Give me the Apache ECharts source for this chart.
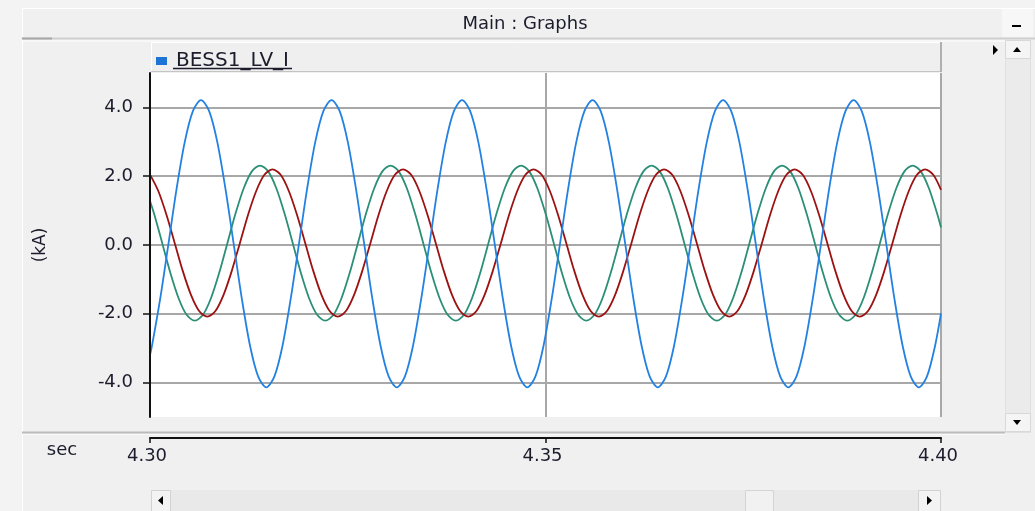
<!DOCTYPE html>
<html>
<head>
<meta charset="utf-8">
<title>Main : Graphs</title>
<script src="https://cdn.jsdelivr.net/npm/echarts@6/dist/echarts.min.js"></script>
<style>
  html, body { margin: 0; padding: 0; background: #f0f0f0; }
  #main { width: 1035px; height: 511px; }
</style>
</head>
<body>
<div id="main"></div>
<script>
// axis ticks
const yTicks = [-4, -2, 0, 2, 4]
const xMin = 4.30
const xMax = 4.40
const xStep = 0.05

// BESS1_LV_I : three phase currents (kA)
const blueName = 'BESS1_LV_I'
const blueTime = [
  4.30000,
  4.30026, 4.30129, 4.30233, 4.30336, 4.30439, 4.30542,
  4.30645, 4.30748, 4.30851, 4.30954, 4.31058, 4.31161, 4.31264, 4.31367,
  4.31470, 4.31573, 4.31676, 4.31779, 4.31883, 4.31986, 4.32089, 4.32192,
  4.32295, 4.32398, 4.32501, 4.32604, 4.32708, 4.32811, 4.32914, 4.33017,
  4.33120, 4.33223, 4.33326, 4.33429, 4.33533, 4.33636, 4.33739, 4.33842,
  4.33945, 4.34048, 4.34151, 4.34254, 4.34358, 4.34461, 4.34564, 4.34667,
  4.34770, 4.34873, 4.34976, 4.35079, 4.35183, 4.35286, 4.35389, 4.35492,
  4.35595, 4.35698, 4.35801, 4.35904, 4.36008, 4.36111, 4.36214, 4.36317,
  4.36420, 4.36523, 4.36626, 4.36729, 4.36833, 4.36936, 4.37039, 4.37142,
  4.37245, 4.37348, 4.37451, 4.37554, 4.37658, 4.37761, 4.37864, 4.37967,
  4.38070, 4.38173, 4.38276, 4.38379, 4.38483, 4.38586, 4.38689, 4.38792,
  4.38895, 4.38998, 4.39101, 4.39204, 4.39308, 4.39411, 4.39514, 4.39617,
  4.39720, 4.39823, 4.39926,
  4.40000
]
const blueValue = [
  -3.20,
  -2.92, -1.56, 0.03, 1.63, 2.99, 3.89,
  4.21, 3.89, 2.99, 1.63, 0.03, -1.56, -2.92, -3.82,
  -4.14, -3.82, -2.92, -1.56, 0.03, 1.63, 2.99, 3.89,
  4.21, 3.89, 2.99, 1.63, 0.03, -1.56, -2.92, -3.82,
  -4.14, -3.82, -2.92, -1.56, 0.03, 1.63, 2.99, 3.89,
  4.21, 3.89, 2.99, 1.63, 0.03, -1.56, -2.92, -3.82,
  -4.14, -3.82, -2.92, -1.56, 0.03, 1.63, 2.99, 3.89,
  4.21, 3.89, 2.99, 1.63, 0.03, -1.56, -2.92, -3.82,
  -4.14, -3.82, -2.92, -1.56, 0.03, 1.63, 2.99, 3.89,
  4.21, 3.89, 2.99, 1.63, 0.03, -1.56, -2.92, -3.82,
  -4.14, -3.82, -2.92, -1.56, 0.03, 1.63, 2.99, 3.89,
  4.21, 3.89, 2.99, 1.63, 0.03, -1.56, -2.92, -3.82,
  -4.14, -3.82, -2.92,
  -1.99
]

const greenTime = [
  4.30000,
  4.30050, 4.30154, 4.30257, 4.30360, 4.30463, 4.30566, 4.30669, 4.30772,
  4.30875, 4.30979, 4.31082, 4.31185, 4.31288,
  4.31391, 4.31494, 4.31597, 4.31700, 4.31804, 4.31907, 4.32010, 4.32113,
  4.32216, 4.32319, 4.32422, 4.32525, 4.32629, 4.32732, 4.32835, 4.32938,
  4.33041, 4.33144, 4.33247, 4.33350, 4.33454, 4.33557, 4.33660, 4.33763,
  4.33866, 4.33969, 4.34072, 4.34175, 4.34279, 4.34382, 4.34485, 4.34588,
  4.34691, 4.34794, 4.34897, 4.35000, 4.35104, 4.35207, 4.35310, 4.35413,
  4.35516, 4.35619, 4.35722, 4.35825, 4.35929, 4.36032, 4.36135, 4.36238,
  4.36341, 4.36444, 4.36547, 4.36650, 4.36754, 4.36857, 4.36960, 4.37063,
  4.37166, 4.37269, 4.37372, 4.37475, 4.37579, 4.37682, 4.37785, 4.37888,
  4.37991, 4.38094, 4.38197, 4.38300, 4.38404, 4.38507, 4.38610, 4.38713,
  4.38816, 4.38919, 4.39022, 4.39125, 4.39229, 4.39332, 4.39435, 4.39538,
  4.39641, 4.39744, 4.39847, 4.39950,
  4.40000
]
const greenValue = [
  1.28,
  0.92, 0.06, -0.81, -1.54, -2.03, -2.20, -2.03, -1.54,
  -0.81, 0.06, 0.92, 1.65, 2.14,
  2.31, 2.14, 1.65, 0.92, 0.06, -0.81, -1.54, -2.03,
  -2.20, -2.03, -1.54, -0.81, 0.06, 0.92, 1.65, 2.14,
  2.31, 2.14, 1.65, 0.92, 0.06, -0.81, -1.54, -2.03,
  -2.20, -2.03, -1.54, -0.81, 0.06, 0.92, 1.65, 2.14,
  2.31, 2.14, 1.65, 0.92, 0.06, -0.81, -1.54, -2.03,
  -2.20, -2.03, -1.54, -0.81, 0.06, 0.92, 1.65, 2.14,
  2.31, 2.14, 1.65, 0.92, 0.06, -0.81, -1.54, -2.03,
  -2.20, -2.03, -1.54, -0.81, 0.06, 0.92, 1.65, 2.14,
  2.31, 2.14, 1.65, 0.92, 0.06, -0.81, -1.54, -2.03,
  -2.20, -2.03, -1.54, -0.81, 0.06, 0.92, 1.65, 2.14,
  2.31, 2.14, 1.65, 0.92,
  0.51
]

const redTime = [
  4.30002, 4.30105, 4.30208, 4.30312, 4.30415, 4.30518, 4.30621, 4.30724,
  4.30827, 4.30930, 4.31033, 4.31137, 4.31240, 4.31343, 4.31446,
  4.31549, 4.31652, 4.31755, 4.31858, 4.31962, 4.32065, 4.32168, 4.32271,
  4.32374, 4.32477, 4.32580, 4.32683, 4.32787, 4.32890, 4.32993, 4.33096,
  4.33199, 4.33302, 4.33405, 4.33508, 4.33612, 4.33715, 4.33818, 4.33921,
  4.34024, 4.34127, 4.34230, 4.34333, 4.34437, 4.34540, 4.34643, 4.34746,
  4.34849, 4.34952, 4.35055, 4.35158, 4.35262, 4.35365, 4.35468, 4.35571,
  4.35674, 4.35777, 4.35880, 4.35983, 4.36087, 4.36190, 4.36293, 4.36396,
  4.36499, 4.36602, 4.36705, 4.36808, 4.36912, 4.37015, 4.37118, 4.37221,
  4.37324, 4.37427, 4.37530, 4.37633, 4.37737, 4.37840, 4.37943, 4.38046,
  4.38149, 4.38252, 4.38355, 4.38458, 4.38562, 4.38665, 4.38768, 4.38871,
  4.38974, 4.39077, 4.39180, 4.39283, 4.39387, 4.39490, 4.39593, 4.39696,
  4.39799, 4.39902,
  4.40000
]
const redValue = [
  2.04, 1.57, 0.88, 0.06, -0.76, -1.45, -1.92, -2.08,
  -1.92, -1.45, -0.76, 0.06, 0.88, 1.57, 2.04,
  2.20, 2.04, 1.57, 0.88, 0.06, -0.76, -1.45, -1.92,
  -2.08, -1.92, -1.45, -0.76, 0.06, 0.88, 1.57, 2.04,
  2.20, 2.04, 1.57, 0.88, 0.06, -0.76, -1.45, -1.92,
  -2.08, -1.92, -1.45, -0.76, 0.06, 0.88, 1.57, 2.04,
  2.20, 2.04, 1.57, 0.88, 0.06, -0.76, -1.45, -1.92,
  -2.08, -1.92, -1.45, -0.76, 0.06, 0.88, 1.57, 2.04,
  2.20, 2.04, 1.57, 0.88, 0.06, -0.76, -1.45, -1.92,
  -2.08, -1.92, -1.45, -0.76, 0.06, 0.88, 1.57, 2.04,
  2.20, 2.04, 1.57, 0.88, 0.06, -0.76, -1.45, -1.92,
  -2.08, -1.92, -1.45, -0.76, 0.06, 0.88, 1.57, 2.04,
  2.20, 2.04,
  1.60
]

const font = '"DejaVu Sans", "Liberation Sans", sans-serif'
const textColor = '#1c1c2c'
const gridColor = '#a8a8a8'

function pairs(t, v) {
  return t.map((x, i) => [x, v[i]])
}

// window chrome (title bar, legend strip, scrollbars)
function line(x1, y1, x2, y2, stroke, w) {
  return { type: 'line', silent: true, shape: { x1, y1, x2, y2 }, style: { stroke, lineWidth: w || 1 } }
}
function box(x, y, width, height, fill, stroke) {
  return { type: 'rect', silent: true, shape: { x, y, width, height }, style: { fill, stroke: stroke || null, lineWidth: 1 } }
}
function tri(points) {
  return { type: 'polygon', silent: true, shape: { points }, style: { fill: '#000' } }
}
function label(x, y, text, size) {
  return {
    type: 'text', silent: true, x, y,
    style: { text, font: size + 'px ' + font, fill: textColor, align: 'center', verticalAlign: 'middle', textAlign: 'center', textVerticalAlign: 'middle' }
  }
}

const chrome = [
  box(0, 0, 1035, 8, '#f3f3f3'),
  box(0, 0, 22, 511, '#f3f3f3'),
  line(22, 8.5, 1035, 8.5, '#ffffff'),
  line(22.5, 8, 22.5, 511, '#ffffff'),
  label(525, 24, 'Main : Graphs', 18),
  line(22, 38.5, 1035, 38.5, '#cfcfcf', 2),
  line(22, 38.5, 52, 38.5, '#a8a8a8', 2),
  line(22, 41, 1005, 41, '#ffffff'),
  box(1002, 9, 31, 28, '#f7f7f7'),
  line(1012, 26, 1021, 26, '#000', 2),
  // legend strip
  box(151, 42, 790, 30, '#efefef'),
  line(151, 42.5, 941, 42.5, '#ffffff'),
  line(151.5, 42, 151.5, 72, '#ffffff'),
  line(151, 71.5, 941, 71.5, '#c4c4c4'),
  line(941, 42, 941, 72, '#b0b0b0', 2),
  line(173, 68.5, 292, 68.5, textColor, 1.5),
  tri([[993, 45], [998, 50], [993, 55]]),
  // vertical scrollbar
  box(1005.5, 40.5, 25, 392, '#ebebeb', '#e0e0e0'),
  box(1005.5, 40.5, 25, 18, '#f5f5f5', '#d8d8d8'),
  tri([[1013, 52], [1021, 52], [1017, 47]]),
  box(1005.5, 413.5, 25, 18, '#f5f5f5', '#d8d8d8'),
  tri([[1013, 420], [1021, 420], [1017, 425]]),
  // separator above time axis
  line(22, 432.5, 1005, 432.5, '#bcbcbc', 2),
  line(22, 434.5, 1005, 434.5, '#fafafa'),
  label(62, 450, 'sec', 18),
  // horizontal scrollbar
  box(170, 490, 750, 21, '#e9e9e9'),
  box(151.5, 490.5, 19, 21, '#f3f3f3', '#d2d2d2'),
  tri([[163, 496], [163, 505], [158, 500.5]]),
  box(745.5, 490.5, 28, 21, '#f1f1f1', '#d4d4d4'),
  box(918.5, 490.5, 22, 21, '#f3f3f3', '#d2d2d2'),
  tri([[927, 496], [927, 505], [932, 500.5]])
]

const chart = echarts.init(document.getElementById('main'))
chart.setOption({
  animation: false,
  backgroundColor: '#f0f0f0',
  graphic: { elements: chrome },
  legend: {
    data: [blueName],
    left: 151,
    top: 46,
    icon: 'rect',
    itemWidth: 11,
    itemHeight: 8,
    selectedMode: false,
    textStyle: { fontFamily: font, fontSize: 20, color: textColor, padding: [0, 0, 0, 4] }
  },
  grid: {
    left: 150,
    right: 94,
    top: 73,
    bottom: 94,
    show: true,
    backgroundColor: '#ffffff',
    borderWidth: 0
  },
  xAxis: {
    type: 'value',
    min: xMin,
    max: xMax,
    interval: xStep,
    offset: 21,
    axisLine: { onZero: false, lineStyle: { color: '#111', width: 2 } },
    axisTick: { show: true, inside: false, length: 5, lineStyle: { color: '#111', width: 1.5 } },
    axisLabel: {
      margin: 9,
      fontFamily: font,
      fontSize: 18,
      color: textColor,
      padding: [0, 6, 0, 0],
      formatter: v => v.toFixed(2)
    },
    splitLine: { show: true, lineStyle: { color: gridColor, width: 2 } }
  },
  yAxis: {
    type: 'value',
    min: -5,
    max: 5,
    z: 4,
    name: '(kA)',
    nameLocation: 'middle',
    nameRotate: 90,
    nameGap: 101,
    nameTextStyle: { fontFamily: font, fontSize: 17, color: textColor },
    axisLine: { show: true, lineStyle: { color: '#111', width: 2 } },
    axisTick: { show: true, length: 7, customValues: yTicks, lineStyle: { color: '#111', width: 1.5 } },
    axisLabel: {
      margin: 17,
      customValues: yTicks,
      fontFamily: font,
      fontSize: 18,
      color: textColor,
      formatter: v => v.toFixed(1)
    },
    splitLine: { show: false }
  },
  series: [
    {
      name: 'BESS1_LV_I:2',
      type: 'line',
      data: pairs(greenTime, greenValue),
      showSymbol: false,
      smooth: 0.3,
      z: 3,
      lineStyle: { color: '#2b8f76', width: 1.8 },
      itemStyle: { color: '#2b8f76' },
      markLine: {
        z: 1,
        silent: true,
        symbol: 'none',
        label: { show: false },
        lineStyle: { color: gridColor, width: 2, type: 'solid' },
        data: yTicks.map(v => ({ yAxis: v }))
      }
    },
    {
      name: 'BESS1_LV_I:3',
      type: 'line',
      data: pairs(redTime, redValue),
      showSymbol: false,
      smooth: 0.3,
      z: 3,
      lineStyle: { color: '#9c1212', width: 1.8 },
      itemStyle: { color: '#9c1212' }
    },
    {
      name: blueName,
      type: 'line',
      data: pairs(blueTime, blueValue),
      showSymbol: false,
      smooth: 0.3,
      z: 3,
      lineStyle: { color: '#2381e2', width: 1.8 },
      itemStyle: { color: '#1c74d4' }
    }
  ]
})
</script>
</body>
</html>
